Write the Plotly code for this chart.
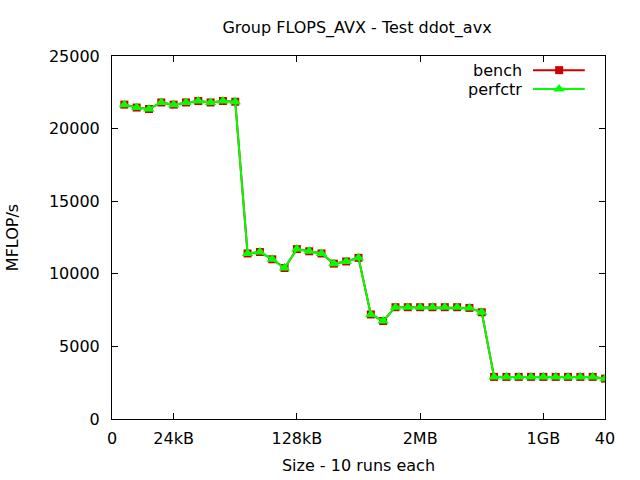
import plotly.graph_objects as go

# ---- data ----
run_index = list(range(1, 41))
bench = [21650, 21450, 21350, 21800, 21650, 21800, 21900, 21800, 21900, 21850,
         11400, 11500, 11000, 10400, 11700, 11550, 11400, 10700, 10850, 11100,
         7200, 6750, 7700, 7700, 7700, 7700, 7700, 7700, 7650, 7350,
         2900, 2900, 2900, 2900, 2900, 2900, 2900, 2900, 2900, 2780]
perfctr = [21650, 21450, 21350, 21800, 21650, 21800, 21900, 21800, 21900, 21850,
           11400, 11500, 11000, 10400, 11700, 11550, 11400, 10700, 10850, 11100,
           7200, 6750, 7700, 7700, 7700, 7700, 7700, 7700, 7650, 7350,
           2900, 2900, 2900, 2900, 2900, 2900, 2900, 2900, 2900, 2780]
x_tickvals = [0, 5, 15, 25, 35, 40]
x_ticktext = ["0", "24kB", "128kB", "2MB", "1GB", "40"]
y_tickvals = [0, 5000, 10000, 15000, 20000, 25000]
y_ticktext = ["0", "5000", "10000", "15000", "20000", "25000"]
series_names = ["bench", "perfctr"]

RED = "#d00000"
GREEN = "#00ff00"
FONT = "DejaVu Sans"
FS = 16

fig = go.Figure()
fig.add_trace(go.Scatter(x=run_index, y=bench, mode="lines+markers", name=series_names[0],
                         line=dict(color=RED, width=2),
                         marker=dict(symbol="square", size=8, color=RED)))
fig.add_trace(go.Scatter(x=run_index, y=perfctr, mode="lines+markers", name=series_names[1],
                         line=dict(color=GREEN, width=2),
                         marker=dict(symbol="triangle-up", size=10, color=GREEN)))

# gnuplot-style legend keys (text left, sample right) on an overlay axis
key_y = [0.961, 0.909]
styles = [(RED, "square", 8), (GREEN, "triangle-up", 10)]
for name, ky, (col, sym, sz) in zip(series_names, key_y, styles):
    fig.add_trace(go.Scatter(x=[0.854, 0.9575, 0.959], y=[ky, ky, ky], xaxis="x2", yaxis="y2",
                             mode="lines", line=dict(color=col, width=2),
                             showlegend=False, hoverinfo="skip"))
    fig.add_trace(go.Scatter(x=[0.907], y=[ky], xaxis="x2", yaxis="y2", mode="markers",
                             marker=dict(symbol=sym, size=sz, color=col),
                             showlegend=False, hoverinfo="skip"))
    fig.add_annotation(x=0.836, y=ky, xref="x2", yref="y2", text=name, showarrow=False,
                       xanchor="right", yanchor="middle",
                       font=dict(family=FONT, size=FS, color="black"))

axis_common = dict(showgrid=False, zeroline=False, showline=True, linecolor="black",
                   linewidth=1, mirror="allticks", ticks="inside", ticklen=6,
                   tickcolor="black", automargin=False,
                   tickfont=dict(family=FONT, size=FS, color="black"))

fig.update_layout(
    width=640, height=480,
    margin=dict(l=112, r=35, t=56, b=61),
    paper_bgcolor="white", plot_bgcolor="white",
    showlegend=False,
    title=dict(text="Group FLOPS_AVX - Test ddot_avx", x=357 / 640, xanchor="center",
               y=1 - 27 / 480, yanchor="middle", automargin=False,
               font=dict(family=FONT, size=FS, color="black")),
    xaxis=dict(range=[0, 40], tickvals=x_tickvals, ticktext=x_ticktext,
               ticklabelstandoff=5,
               title=dict(text="Size - 10 runs each", standoff=12,
                          font=dict(family=FONT, size=FS, color="black")),
               **axis_common),
    yaxis=dict(range=[0, 25000], tickvals=y_tickvals, ticktext=y_ticktext,
               ticklabelstandoff=8,
               title=dict(text="MFLOP/s", standoff=26,
                          font=dict(family=FONT, size=FS, color="black")),
               **axis_common),
    xaxis2=dict(overlaying="x", range=[0, 1], visible=False),
    yaxis2=dict(overlaying="y", range=[0, 1], visible=False),
)

fig.write_html("out.html", config={"displayModeBar": False},
               post_script="document.body.style.margin='0px';")
